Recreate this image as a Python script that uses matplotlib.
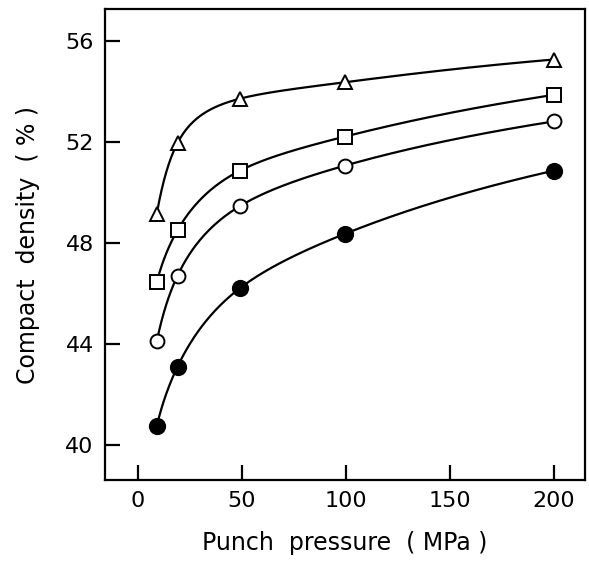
"""Compact density vs punch pressure"""

import matplotlib
matplotlib.use("Agg")
import matplotlib.pyplot as plt
import numpy as np

# punch pressure (MPa)
PRESSURE = [9, 19, 49, 99.5, 200]
# compact density (%) for the four powders
TRIANGLE = [49.15, 51.95, 53.7, 54.35, 55.25]
SQUARE = [46.45, 48.5, 50.85, 52.2, 53.85]
CIRCLE = [44.1, 46.7, 49.45, 51.05, 52.8]
FILLED = [40.75, 43.1, 46.2, 48.35, 50.85]

X_TICKS = [0, 50, 100, 150, 200]
Y_TICKS = [40, 44, 48, 52, 56]


def natural_spline(x, y, xs):
    """natural cubic spline through the points"""
    x = np.asarray(x, float)
    y = np.asarray(y, float)
    n = len(x)
    h = np.diff(x)
    A = np.zeros((n, n))
    r = np.zeros(n)
    A[0, 0] = A[-1, -1] = 1
    for i in range(1, n - 1):
        A[i, i - 1] = h[i - 1]
        A[i, i] = 2 * (h[i - 1] + h[i])
        A[i, i + 1] = h[i]
        r[i] = 3 * ((y[i + 1] - y[i]) / h[i] - (y[i] - y[i - 1]) / h[i - 1])
    c = np.linalg.solve(A, r)
    out = np.empty_like(xs)
    for j, xv in enumerate(xs):
        k = min(np.searchsorted(x, xv, side="right") - 1, n - 2)
        t = xv - x[k]
        b = (y[k + 1] - y[k]) / h[k] - h[k] * (2 * c[k] + c[k + 1]) / 3
        d = (c[k + 1] - c[k]) / (3 * h[k])
        out[j] = y[k] + b * t + c[k] * t**2 + d * t**3
    return out


fig = plt.figure(figsize=(5.89, 5.61), dpi=100)
ax = fig.add_axes([0.178, 0.144, 0.815, 0.840])

xs = np.linspace(PRESSURE[0], PRESSURE[-1], 500)
series = [
    (TRIANGLE, "^", "white", 10),
    (SQUARE, "s", "white", 10),
    (CIRCLE, "o", "white", 10),
    (FILLED, "o", "black", 11),
]
for values, marker, face, size in series:
    # spline in log(pressure), the curves are drawn smooth like a french curve
    ys = natural_spline(np.log(PRESSURE), values, np.log(xs))
    ax.plot(xs, ys, color="black", lw=1.6, zorder=2)
    ax.plot(PRESSURE, values, ls="none", marker=marker, ms=size,
            mfc=face, mec="black", mew=1.4, zorder=3)

ax.set_xlim(-16, 215)
ax.set_ylim(38.6, 57.25)
ax.set_xticks(X_TICKS)
ax.set_yticks(Y_TICKS)
ax.tick_params(direction="in", length=11, width=1.6, labelsize=16, pad=8)
for spine in ax.spines.values():
    spine.set_linewidth(1.6)

ax.set_xlabel("Punch  pressure  ( MPa )", fontsize=17, labelpad=14)
ax.set_ylabel("Compact  density  ( % )", fontsize=17, labelpad=18)

plt.savefig("out.png", dpi=100)
plt.close()
